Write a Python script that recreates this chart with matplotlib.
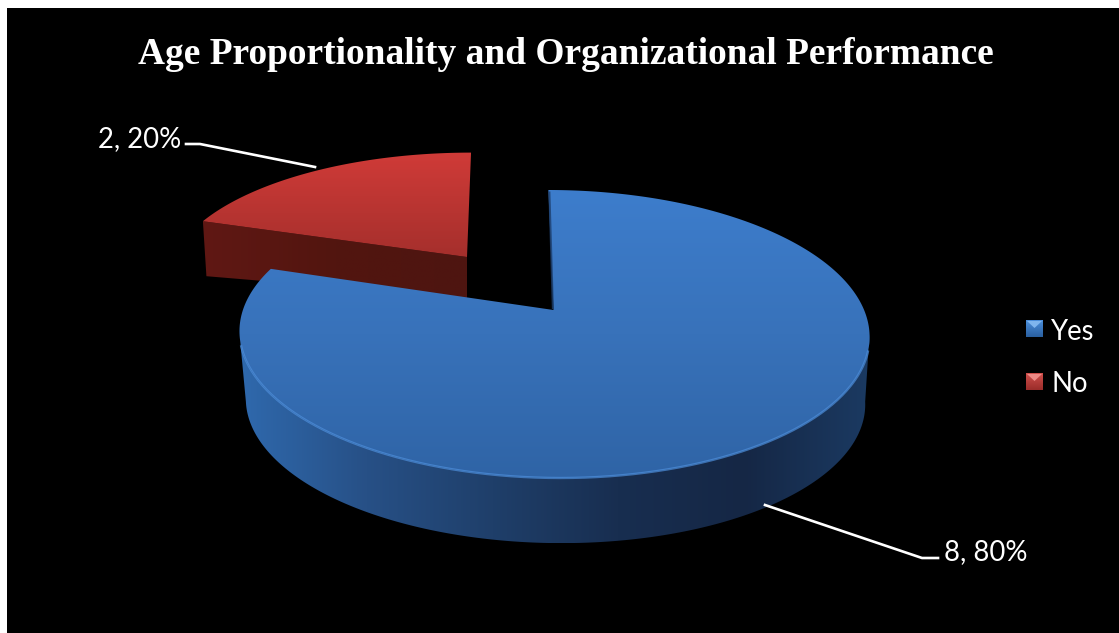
import numpy as np
import matplotlib
matplotlib.use("Agg")
import matplotlib.pyplot as plt
from matplotlib.colors import LinearSegmentedColormap
from matplotlib.patches import Polygon, Rectangle

# Survey results
categories = ["Yes", "No"]
counts = [8, 2]
title_text = "Age Proportionality and Organizational Performance"

W, H = 1119, 633
fig = plt.figure(figsize=(W / 100, H / 100), dpi=100, facecolor="white")
ax = fig.add_axes([0, 0, 1, 1])
ax.set_xlim(0, W)
ax.set_ylim(H, 0)
ax.axis("off")
ax.add_patch(Rectangle((6.5, 7.5), W, H, facecolor="black", edgecolor="none", zorder=0))

total = sum(counts)
fractions = [c / total for c in counts]
sweep = [360 * f for f in fractions]
# The first slice starts at twelve o'clock and runs clockwise.
yes_start, yes_end = 0.0, sweep[0]
no_start, no_end = sweep[0], sweep[0] + sweep[1]

TILT = 1 / 6


def project(theta_deg, apex, rx=310.6, ry=140.0, shear=-6.0, radius=1.0):
    """Map a point on the pie's unit disc to the canvas with a simple perspective."""
    t = np.radians(theta_deg)
    u, v = radius * np.sin(t), radius * np.cos(t)
    s = 1 / (1 + TILT * v)
    return apex[0] + (rx * u + shear * v) * s, apex[1] - ry * v * s


def gradient_fill(poly_xy, stops, vertical=True, zorder=1):
    """Fill a polygon with a linear colour gradient."""
    poly_xy = np.asarray(poly_xy)
    x0, y0 = poly_xy.min(axis=0)
    x1, y1 = poly_xy.max(axis=0)
    cmap = LinearSegmentedColormap.from_list("g", stops)
    ramp = np.linspace(0, 1, 256)
    ramp = ramp[:, None] if vertical else ramp[None, :]
    im = ax.imshow(ramp, cmap=cmap, vmin=0, vmax=1, extent=(x0, x1, y1, y0),
                   aspect="auto", interpolation="bilinear", zorder=zorder)
    clip = Polygon(poly_xy, closed=True, transform=ax.transData, facecolor="none", edgecolor="none")
    ax.add_patch(clip)
    im.set_clip_path(clip)
    return im


# Exploded "No" slice
no_apex = (467, 257)
no_kw = dict(rx=310.6 * 0.945, ry=140 * 0.87, shear=4.7)
th = np.linspace(no_start, no_end, 80)
nx, ny = project(th, no_apex, **no_kw)
no_top = np.vstack([np.column_stack([nx, ny]), no_apex])
lx, ly = nx[0], ny[0]
no_wall = [(lx, ly), no_apex, (no_apex[0], no_apex[1] + 41), (lx + 3.5, ly + 55)]
gradient_fill(no_wall, ["#601814", "#52150f", "#4e1511"], vertical=False, zorder=1)
gradient_fill(no_top, ["#d03b38", "#a52f2c"], zorder=2)

# "Yes" slice: outer wall, then the top face
yes_apex = (553.5, 310)
left_turn, right_turn = 260.4, 99.6
th_front = np.linspace(right_turn, left_turn, 200)
tx, ty = project(th_front, yes_apex)
bottom_apex = (554.5, 378)
bx, by = project(th_front, bottom_apex, rx=310.6 * 0.983, ry=140 * 0.983)
wall = np.vstack([np.column_stack([tx, ty]), np.column_stack([bx, by])[::-1]])
gradient_fill(wall, ["#2f69ad", "#275086", "#1f3f6a", "#182e50", "#152745", "#1b3a62"],
              vertical=False, zorder=3)

th = np.linspace(yes_start, yes_end, 400)
yx, yy = project(th, yes_apex)
yes_top = np.vstack([np.column_stack([yx, yy]), yes_apex])
gradient_fill(yes_top, ["#3d7dcc", "#3872ba", "#2f64a6"], zorder=4)

# Narrow wall along the cut at twelve o'clock and the lit front edge
ax.plot([yx[0] + 1.0, yes_apex[0] - 0.6], [yy[0] + 1.5, yes_apex[1] - 1], color="#1d3f6e", lw=1.5,
        alpha=0.8, zorder=5, solid_capstyle="butt")
ex, ey = project(np.linspace(106, 256, 240), yes_apex)
ax.plot(ex, ey, color="#4d8edb", lw=1.7, alpha=0.7, zorder=5, solid_capstyle="butt")

# Leader lines and data labels
ax.plot([186, 200, 315], [144, 144, 167], color="white", lw=1.9, zorder=6, solid_joinstyle="round")
ax.plot([765, 922, 938], [505, 558, 558], color="white", lw=1.9, zorder=6, solid_joinstyle="round")
label_font = dict(family="Lato", color="white", fontsize=19.8, zorder=7)
ax.text(181, 139, f"{counts[1]}, {fractions[1]:.0%}", ha="right", va="center", **label_font)
ax.text(944, 552, f"{counts[0]}, {fractions[0]:.0%}", ha="left", va="center", **label_font)

# Title
ax.text(565.5, 54, title_text, family="Liberation Serif", fontweight="bold", fontsize=26.9,
        color="white", ha="center", va="center", zorder=7)

# Legend with bevelled markers
legend_rows = [(320, ["#4b8fdc", "#2a5f9f"], "#7fb5ee"), (373, ["#d0504c", "#9a2c2a"], "#ee8a86")]
for name, (top, stops, light) in zip(categories, legend_rows):
    square = [(1026, top), (1043, top), (1043, top + 17), (1026, top + 17)]
    gradient_fill(square, stops, zorder=6)
    ax.add_patch(Polygon([(1027, top + 1), (1042, top + 1), (1034.5, top + 8)], closed=True,
                         facecolor=light, edgecolor="none", zorder=7))
    ax.text(1051, top + 11.5, name, family="Lato", color="white", fontsize=19.8,
            ha="left", va="center", zorder=7)

ax.set_xlim(0, W)
ax.set_ylim(H, 0)
fig.savefig("out.png", dpi=100, facecolor="white")
